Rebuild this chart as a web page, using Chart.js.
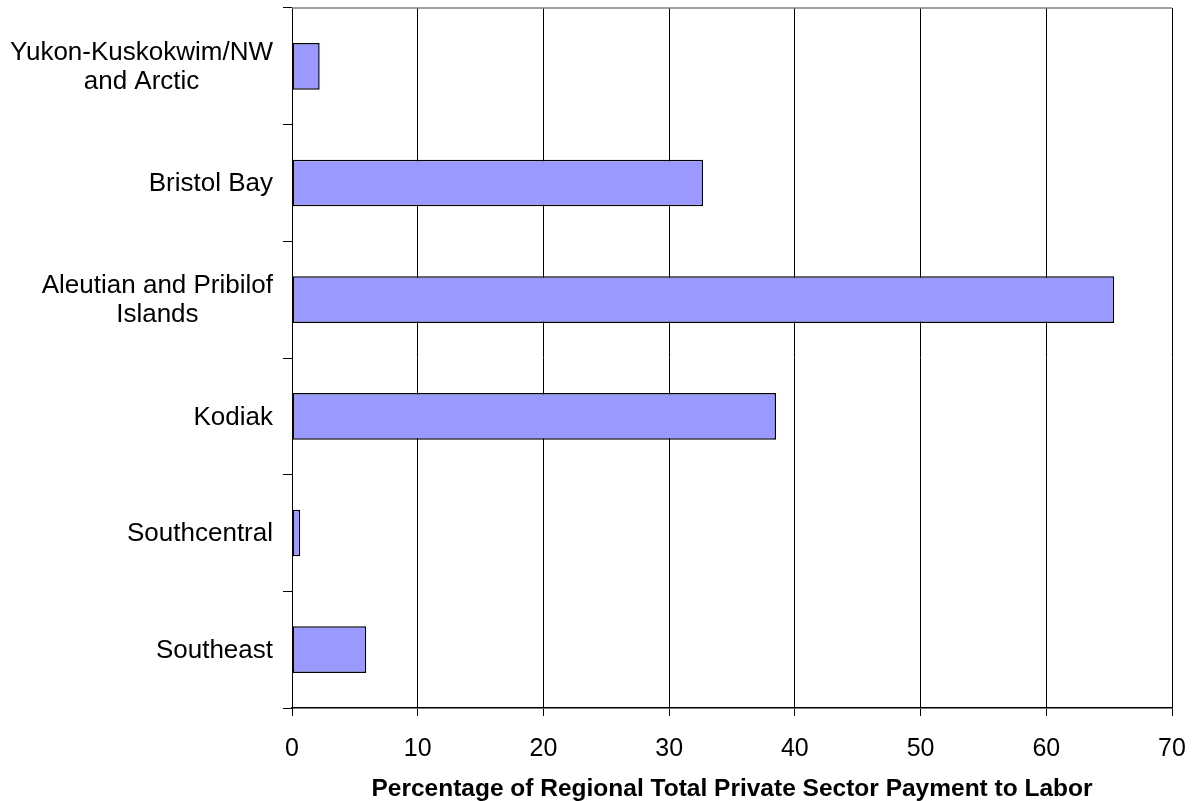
<!DOCTYPE html>
<html>
<head>
<meta charset="utf-8">
<script src="https://cdn.jsdelivr.net/npm/chart.js@4/dist/chart.umd.min.js"></script>
<style>
  html, body { margin: 0; padding: 0; background: #ffffff; }
  #wrap { width: 1196px; height: 801px; }
</style>
</head>
<body>
<div id="wrap"><canvas id="c" width="1196" height="801"></canvas></div>
<script>
const categories = [
  ['Yukon-Kuskokwim/NW', 'and Arctic'],
  ['Bristol Bay'],
  ['Aleutian and Pribilof', 'Islands'],
  ['Kodiak'],
  ['Southcentral'],
  ['Southeast']
];
const values = [2.2, 32.7, 65.4, 38.5, 0.65, 5.9];
const xTickValues = [0, 10, 20, 30, 40, 50, 60, 70];
const xTitle = 'Percentage of Regional Total Private Sector Payment to Labor';

const FONT = '"Liberation Sans", Arial, sans-serif';
const LABEL_RIGHT = 273;
const LABEL_LH = 29;

const extras = {
  id: 'extras',
  afterDraw(chart) {
    const ctx = chart.ctx;
    const a = chart.chartArea;
    ctx.save();
    ctx.strokeStyle = '#808080';
    ctx.lineWidth = 1.5;
    ctx.beginPath();
    ctx.moveTo(a.left, a.top);
    ctx.lineTo(a.right, a.top);
    ctx.stroke();
    const ys = chart.scales.y;
    ctx.font = '26px ' + FONT;
    ctx.fillStyle = '#000000';
    ctx.textAlign = 'center';
    ctx.textBaseline = 'middle';
    categories.forEach((lines, i) => {
      const w = Math.max(...lines.map(l => ctx.measureText(l).width));
      const cx = LABEL_RIGHT - w / 2;
      const cy = ys.getPixelForValue(i) + 1;
      lines.forEach((l, j) => {
        ctx.fillText(l, cx, cy + (j - (lines.length - 1) / 2) * LABEL_LH);
      });
    });
    ctx.restore();
  }
};

new Chart(document.getElementById('c'), {
  type: 'bar',
  data: {
    labels: categories.map(l => l.join(' ')),
    datasets: [{
      data: values,
      backgroundColor: '#9999FF',
      borderColor: '#000000',
      borderWidth: 1.5,
      borderSkipped: false,
      barPercentage: 0.5,
      categoryPercentage: 0.8
    }]
  },
  options: {
    indexAxis: 'y',
    responsive: false,
    animation: false,
    events: [],
    layout: { padding: { left: 0, right: 24, top: 8, bottom: 0 } },
    plugins: { legend: { display: false }, tooltip: { enabled: false } },
    scales: {
      x: {
        min: xTickValues[0],
        max: xTickValues[xTickValues.length - 1],
        afterBuildTicks(scale) { scale.ticks = xTickValues.map(v => ({ value: v })); },
        grid: { color: '#000000', lineWidth: 1, tickLength: 8, drawTicks: true },
        border: { color: '#000000', width: 1.5 },
        ticks: { color: '#000000', font: { family: FONT, size: 25 }, padding: 18, maxRotation: 0 },
        title: {
          display: true,
          text: xTitle,
          color: '#000000',
          font: { family: FONT, size: 24.5, weight: 'bold' },
          padding: { top: 0, bottom: -3 }
        },
        afterFit(scale) { scale.height = 93; scale.paddingLeft = 0; scale.paddingRight = 0; }
      },
      y: {
        offset: true,
        grid: { offset: true, drawOnChartArea: false, drawTicks: true, tickLength: 9, color: '#000000', lineWidth: 1 },
        border: { color: '#000000', width: 1 },
        ticks: { color: 'rgba(0,0,0,0)', font: { family: FONT, size: 1 } },
        afterFit(scale) { scale.width = 292; scale.paddingTop = 0; scale.paddingBottom = 0; }
      }
    }
  },
  plugins: [extras]
});
</script>
</body>
</html>
